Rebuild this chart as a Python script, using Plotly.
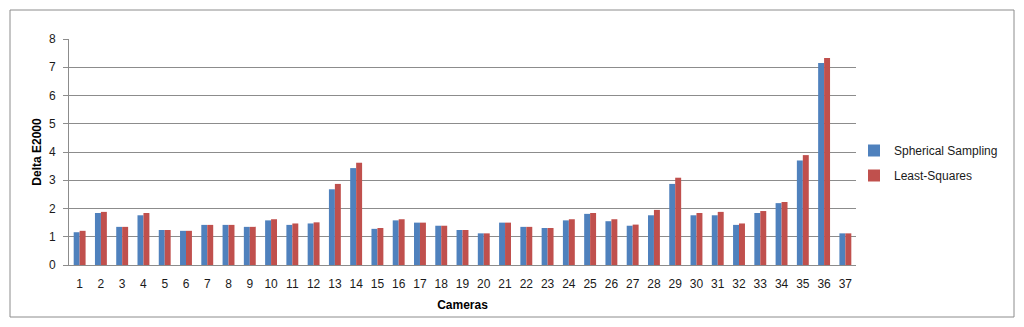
import plotly.graph_objects as go

cameras = [str(i) for i in range(1, 38)]
spherical = [1.16, 1.84, 1.35, 1.76, 1.24, 1.21, 1.42, 1.42, 1.35, 1.58,
             1.42, 1.47, 2.68, 3.43, 1.28, 1.58, 1.50, 1.39, 1.24, 1.12,
             1.50, 1.35, 1.31, 1.58, 1.81, 1.55, 1.39, 1.76, 2.87, 1.76,
             1.76, 1.42, 1.84, 2.19, 3.70, 7.15, 1.12]
least_squares = [1.21, 1.88, 1.35, 1.84, 1.24, 1.21, 1.42, 1.42, 1.35, 1.62,
                 1.47, 1.51, 2.87, 3.62, 1.31, 1.62, 1.50, 1.39, 1.24, 1.12,
                 1.50, 1.35, 1.31, 1.62, 1.84, 1.62, 1.43, 1.95, 3.09, 1.84,
                 1.88, 1.47, 1.91, 2.23, 3.89, 7.33, 1.12]
y_ticks = [0, 1, 2, 3, 4, 5, 6, 7, 8]

FONT = "Liberation Sans"
BLUE = "#4F81BD"
RED = "#C0504D"
GRID = "#8C8C8C"

fig = go.Figure()
fig.add_trace(go.Bar(x=cameras, y=spherical, name="Spherical Sampling",
                     marker=dict(color=BLUE, line=dict(width=0)),
                     legendgroup="a"))
fig.add_trace(go.Bar(x=cameras, y=least_squares, name="Least-Squares",
                     marker=dict(color=RED, line=dict(width=0)),
                     legendgroup="b"))

# page has an 8px body margin; work in page pixels and convert
OFF = 8
L, R, T, B = 69 - OFF, 856 - OFF, 39 - OFF, 265 - OFF
W, H = 1024 - OFF, 327 - OFF
pw, ph = R - L, B - T

fig.update_layout(
    width=W, height=H,
    margin=dict(l=L, r=W - R, t=T, b=H - B, pad=0, autoexpand=False),
    paper_bgcolor="white", plot_bgcolor="white",
    barmode="group", bargap=0.44, bargroupgap=0,
    font=dict(family=FONT, size=12, color="#1a1a1a"),
    showlegend=True,
    legend=dict(x=(854 - OFF - L) / pw, y=(265 - 163) / ph, xanchor="left", yanchor="middle",
                font=dict(family=FONT, size=12, color="#1a1a1a"),
                traceorder="grouped", tracegroupgap=6, itemwidth=30,
                bgcolor="rgba(0,0,0,0)"),
    xaxis=dict(
        type="category", showgrid=False, showline=True, linecolor=GRID, linewidth=1,
        ticks="", tickfont=dict(size=12, family=FONT, color="#1a1a1a"),
        title=dict(text="<b>Cameras</b>", font=dict(size=12, family=FONT, color="#000"),
                   standoff=10),
        ticklabelstandoff=8, automargin=False,
    ),
    yaxis=dict(
        range=[0, 8], tickvals=y_ticks, showgrid=True, gridcolor=GRID, gridwidth=1,
        showline=True, linecolor=GRID, linewidth=1, ticks="outside", ticklen=5,
        tickcolor=GRID, tickfont=dict(size=12, family=FONT, color="#1a1a1a"),
        zeroline=False, ticklabelstandoff=5, automargin=False,
        title=dict(text="<b>Delta E2000</b>", font=dict(size=12, family=FONT, color="#000"),
                   standoff=4),
    ),
    shapes=[dict(type="rect", xref="paper", yref="paper",
                 x0=(10 - OFF - L) / pw, x1=(1014 - OFF - L) / pw,
                 y0=(B - (317 - OFF)) / ph, y1=(B - (10 - OFF)) / ph,
                 line=dict(color="#8C8C8C", width=1), fillcolor="rgba(0,0,0,0)",
                 layer="below")],
)

fig.write_html("out.html")
